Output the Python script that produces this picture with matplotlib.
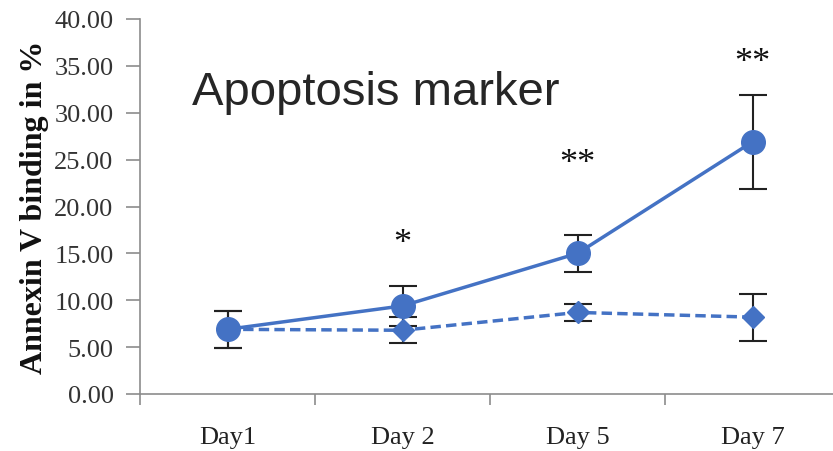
import matplotlib
matplotlib.use("Agg")
import numpy as np
import matplotlib.pyplot as plt

# - data
days = ["Day1", "Day 2", "Day 5", "Day 7"]
treated = [6.9, 9.4, 15.0, 26.9]
treated_err = [2.0, 2.1, 2.0, 5.0]
control = [6.9, 6.8, 8.7, 8.2]
control_err = [2.0, 1.4, 0.9, 2.5]
stars = ["", "*", "**", "**"]
star_y = [0, 16.0, 24.6, 35.4]

blue = "#4472C4"
grey = "#8c8c8c"
serif = ["Liberation Serif", "DejaVu Serif"]

# - plot
fig = plt.figure(figsize=(8.33, 4.52), dpi=100)
ax = fig.add_axes([140/833, 57/452, 700/833, 375/452])
x = np.arange(len(days))

ax.errorbar(x, control, yerr=control_err, fmt="none", ecolor="#222222",
            elinewidth=1.5, capsize=10, capthick=1.5, zorder=2)
ax.errorbar(x, treated, yerr=treated_err, fmt="none", ecolor="#222222",
            elinewidth=1.5, capsize=10, capthick=1.5, zorder=2)
ax.plot(x, control, color=blue, linestyle=(0, (3, 1.5)), linewidth=2.5,
        marker="D", markersize=11, zorder=3)
ax.plot(x, treated, color=blue, linestyle="-", linewidth=2.5,
        marker="o", markersize=17, zorder=4)

for xi, s, yi in zip(x, stars, star_y):
    if s:
        ax.text(xi, yi, s, ha="center", va="center", fontsize=26,
                family=serif, color="#111111")

ax.text(0.075, 0.805, "Apoptosis marker", transform=ax.transAxes,
        fontsize=34, family=["Liberation Sans", "DejaVu Sans"], color="#262626",
        ha="left", va="center")

ax.set_ylim(0, 40)
ax.set_xlim(-0.5, 3.5)
ax.set_yticks(np.arange(0, 41, 5))
ax.set_yticklabels(["%.2f" % v for v in np.arange(0, 41, 5)], family=serif,
                   fontsize=19, color="#333333")
ax.set_xticks(np.arange(-0.5, 3.6, 1.0))
ax.set_xticklabels([])
ax.set_xticks(x, minor=True)
ax.set_xticklabels(days, minor=True, family=serif, fontsize=19, color="#222222")
ax.tick_params(axis="x", which="minor", length=0, pad=23)
ax.tick_params(axis="x", which="major", length=8, width=1.2, color=grey)
ax.tick_params(axis="y", length=10, width=1.2, color=grey, pad=9)
ax.set_ylabel("Annexin V binding in %", family=serif, fontsize=23,
              fontweight="bold", color="#111111", labelpad=4)

for side in ["top", "right"]:
    ax.spines[side].set_visible(False)
for side in ["left", "bottom"]:
    ax.spines[side].set_color(grey)
    ax.spines[side].set_linewidth(1.2)

plt.savefig("out.png", dpi=100)
